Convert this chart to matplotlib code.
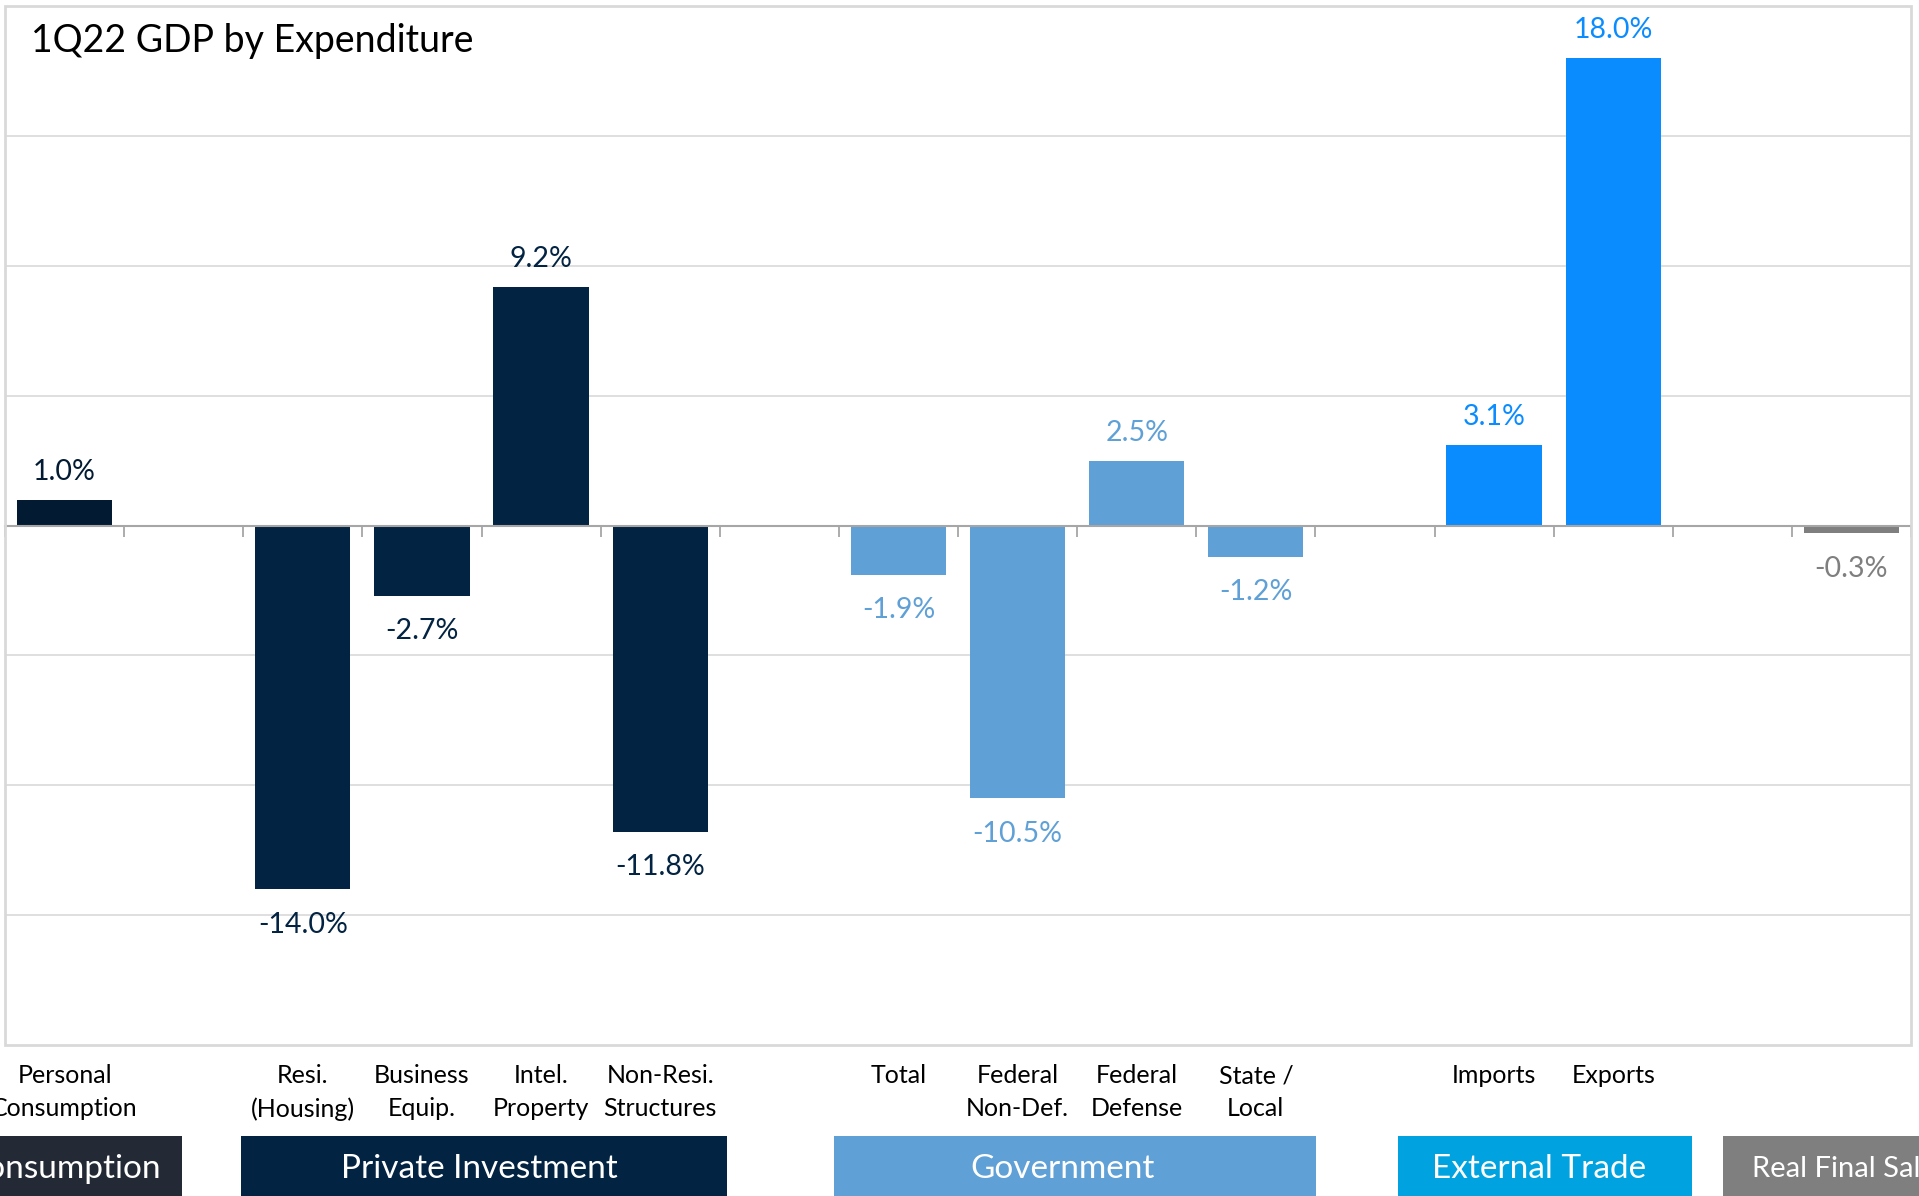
import matplotlib
matplotlib.use('Agg')
import matplotlib.pyplot as plt
import matplotlib.transforms as mtransforms
from matplotlib.patches import Rectangle
import numpy as np

# Données (une case par emplacement de l'axe, NaN = case vide)
categories = ["Personal\nConsumption", "", "Resi.\n(Housing)", "Business\nEquip.",
              "Intel.\nProperty", "Non-Resi.\nStructures", "", "Total",
              "Federal\nNon-Def.", "Federal\nDefense", "State /\nLocal", "",
              "Imports", "Exports", "", ""]
values = [1.0, np.nan, -14.0, -2.7, 9.2, -11.8, np.nan, -1.9,
          -10.5, 2.5, -1.2, np.nan, 3.1, 18.0, np.nan, -0.3]
slot_group = ["cons", "", "inv", "inv", "inv", "inv", "", "gov",
              "gov", "gov", "gov", "", "trade", "trade", "", "rfs"]
group_labels = ["Consumption", "Private Investment", "Government",
                "External Trade", "Real Final Sales"]

# Styles
plt.rcParams['font.family'] = ['Lato', 'DejaVu Sans']
bar_colors = {"cons": "#021b33", "inv": "#022342", "gov": "#5fa0d6",
              "trade": "#0a8cff", "rfs": "#7f7f7f"}
box_colors = ["#242a35", "#022342", "#5fa0d6", "#00a3e0", "#7f7f7f"]
# bandeaux de groupe (x en unités de case) : gauche, droite, centre du texte
box_spans = [(-0.96, 0.985), (1.48, 5.565), (6.455, 10.507),
             (11.195, 13.66), (13.92, 16.6)]
box_text_x = [-0.015, 3.485, 8.376, 12.378, 14.165]

fig = plt.figure(figsize=(19.19, 11.96), dpi=100)
W, H = 1919, 1196
ax = fig.add_axes([5 / W, 1 - 1045 / H, 1906 / W, 1039 / H])

x = np.arange(len(values))
colors = [bar_colors.get(g, "white") for g in slot_group]
ax.bar(x, values, width=0.8, color=colors, zorder=3)

ax.set_xlim(-0.5, len(values) - 0.5)
ax.set_ylim(-20, 20)
ax.set_yticks([])
for yv in [-15, -10, -5, 5, 10, 15]:
    ax.axhline(yv, color="#d9d9d9", lw=1.2, zorder=1)

# axe horizontal à zéro avec graduations entre les cases
for s in ["top", "left", "right"]:
    ax.spines[s].set_visible(False)
ax.spines["bottom"].set_position(("data", 0))
ax.spines["bottom"].set_color("#a6a6a6")
ax.spines["bottom"].set_linewidth(1.5)
ax.spines["bottom"].set_zorder(4)
ax.set_xticks(np.arange(-0.5, len(values), 1))
ax.tick_params(axis="x", direction="out", length=8, width=1.3,
               color="#a6a6a6", labelbottom=False)

# cadre de la zone de tracé
ax.add_patch(Rectangle((0, 0), 1, 1, transform=ax.transAxes, fill=False,
                       edgecolor="#d9d9d9", lw=2, clip_on=False, zorder=5))

# étiquettes de valeurs
for xi, v, g in zip(x, values, slot_group):
    if np.isnan(v):
        continue
    off = 20 if v >= 0 else -25.5
    ax.annotate(f"{v:.1f}%", (xi, v), xytext=(0, off), textcoords="offset points",
                ha="center", va="center", fontsize=20.5, color=bar_colors[g])

# titre
fig.text(31 / W, 1 - 41 / H, "1Q22 GDP by Expenditure", fontsize=27,
         ha="left", va="center", color="black")

# libellés des catégories sous le graphique
trans = mtransforms.blended_transform_factory(ax.transData, fig.transFigure)
for xi, lab in zip(x, categories):
    if lab:
        ax.text(xi, 1 - 1064 / H, lab, transform=trans, ha="center", va="top",
                fontsize=18, linespacing=1.55, color="black")

# bandeaux de groupes
for (x0, x1), tx, c, lab in zip(box_spans, box_text_x, box_colors, group_labels):
    ax.add_patch(Rectangle((x0, 0), x1 - x0, 1 - 1136 / H,
                           transform=trans, facecolor=c, edgecolor="none",
                           clip_on=False))
    if lab == "Real Final Sales":
        ax.text(tx, 1 - 1169 / H, lab, transform=trans, ha="left",
                va="center", fontsize=21, color="white")
    else:
        ax.text(tx, 1 - 1169 / H, lab, transform=trans, ha="center",
                va="center", fontsize=24, color="white")

fig.savefig("out.png", dpi=100, facecolor="white")
plt.close(fig)
